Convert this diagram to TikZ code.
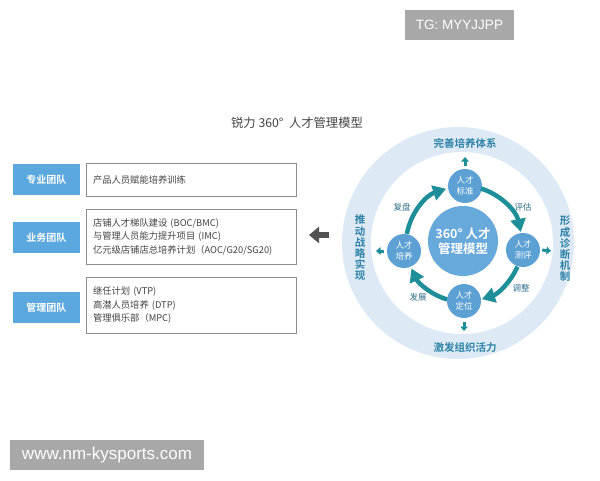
\documentclass[tikz,border=0pt]{standalone}
\usepackage{fontspec}
\setmainfont{Noto Sans CJK SC}[BoldFont={Noto Sans CJK SC Bold}]
\newfontfamily\latinsans{Liberation Sans}
\usetikzlibrary{arrows.meta}
\definecolor{ringc}{HTML}{DDEAF5}
\definecolor{teamc}{HTML}{5BA8DE}
\definecolor{boxline}{HTML}{8C8C8C}
\definecolor{txt}{HTML}{444444}
\definecolor{smallc}{HTML}{5DA1D4}
\definecolor{bigc}{HTML}{67A9DA}
\definecolor{tealc}{HTML}{1E8E98}
\definecolor{lblc}{HTML}{2F6F8A}
\definecolor{outc}{HTML}{2C82A6}
\definecolor{tagc}{HTML}{A8A8A8}
\tikzset{
  team/.style={rectangle, fill=teamc, text=white, minimum width=67pt, minimum height=31pt, inner sep=0pt, font=\bfseries\fontsize{10}{11}\selectfont},
  infobox/.style={rectangle, draw=boxline, line width=0.8pt, fill=white, text=txt, minimum width=210pt, text width=196pt, inner xsep=7pt, inner ysep=0pt, align=left, font=\fontsize{9.3}{13.5}\selectfont},
  small/.style={circle, fill=smallc, text=white, minimum size=34pt, inner sep=0pt, align=center, font=\fontsize{8.5}{11}\selectfont},
  big/.style={circle, fill=bigc, text=white, minimum size=70pt, inner sep=0pt, align=center, font=\bfseries\fontsize{12.5}{15}\selectfont},
  cyc/.style={draw=tealc, line width=4.5pt, -{Triangle[width=15pt,length=13pt]}},
  outarrow/.style={draw=tealc, line width=3pt, -{Triangle[width=7.5pt,length=4.5pt]}},
  cyclbl/.style={text=lblc, font=\fontsize{8.5}{10}\selectfont},
  outlbl/.style={text=outc, font=\bfseries\fontsize{10.5}{11.2}\selectfont, align=center},
  tag/.style={rectangle, fill=tagc, text=white, inner sep=0pt}
}
\begin{document}
\begin{tikzpicture}[x=1pt,y=-1pt]
\useasboundingbox (0,0) rectangle (600,480);
\fill[white] (0,0) rectangle (600,480);

% tags
\node[tag, minimum width=109pt, minimum height=30pt, font=\latinsans\fontsize{13.5}{15}\selectfont] (tg) at (459.5,25) {TG: MYYJJPP};
\node[tag, minimum width=194pt, minimum height=30pt, font=\latinsans\fontsize{17}{19}\selectfont] (www) at (107,455) {www.nm-kysports.com};

% title
\node[text=txt, font=\fontsize{12.3}{14}\selectfont] (title) at (297,123) {锐力 360°\ \ 人才管理模型};

% left teams
\node[team] (t1) at (46.5,179.5) {专业团队};
\node[team] (t2) at (46.5,237.5) {业务团队};
\node[team] (t3) at (46.5,307.5) {管理团队};

\node[infobox, minimum height=33pt] (b1) at (191,179.5) {产品人员赋能培养训练};
\node[infobox, minimum height=55pt] (b2) at (191,236.5) {店铺人才梯队建设 (BOC/BMC)\\与管理人员能力提升项目 (IMC)\\亿元级店铺店总培养计划（AOC/G20/SG20)};
\node[infobox, minimum height=56pt] (b3) at (191,305) {继任计划 (VTP)\\高潜人员培养 (DTP)\\管理俱乐部（MPC)};

% big gray arrow
\coordinate (ga1) at (329,235);
\coordinate (ga2) at (309,235);
\draw[draw=black!68, line width=6pt, -{Triangle[width=16pt,length=10pt]}] (ga1) -- (ga2);

% ring
\fill[ringc] (458,243) circle (116);
\fill[white] (462,243) circle (91);

% centre
\coordinate (O) at (464,244);
\node[big] (core) at (463,241) {360°\ 人才\\管理模型};

\node[small] (bz) at (465,186) {人才\\标准};
\node[small] (cp) at (523,250) {人才\\测评};
\node[small] (dw) at (464,301) {人才\\定位};
\node[small] (py) at (404,251) {人才\\培养};

% cycle arcs (y axis points down: angles grow clockwise on screen)
\draw[cyc] (O) ++(190:58) arc[start angle=190, end angle=252, radius=58];
\draw[cyc] (O) ++(287:58) arc[start angle=287, end angle=348, radius=58];
\draw[cyc] (O) ++(23:58) arc[start angle=23, end angle=72, radius=58];
\draw[cyc] (O) ++(107:58) arc[start angle=107, end angle=155, radius=58];

\node[cyclbl] (l1) at (402,207) {复盘};
\node[cyclbl] (l2) at (523,207) {评估};
\node[cyclbl] (l3) at (521,288) {调整};
\node[cyclbl] (l4) at (418,297) {发展};

% outward small arrows
\coordinate (ua) at (465,157);
\coordinate (ra) at (551,251);
\coordinate (da) at (464,331);
\coordinate (la) at (376,251);
\draw[outarrow] (bz.north) ++(0,-3) coordinate (uas) (uas) -- (ua);
\draw[outarrow] (cp.east) ++(2,0) coordinate (ras) (ras) -- (ra);
\draw[outarrow] (dw.south) ++(0,4) coordinate (das) (das) -- (da);
\draw[outarrow] (py.west) ++(-3,0) coordinate (las) (las) -- (la);

% outer labels
\node[outlbl] (o1) at (465,143) {完善培养体系};
\node[outlbl] (o2) at (465,347) {激发组织活力};
\node[outlbl] (o3) at (360,248) {推\\动\\战\\略\\实\\现};
\node[outlbl] (o4) at (565,249) {形\\成\\诊\\断\\机\\制};
\end{tikzpicture}
\end{document}
